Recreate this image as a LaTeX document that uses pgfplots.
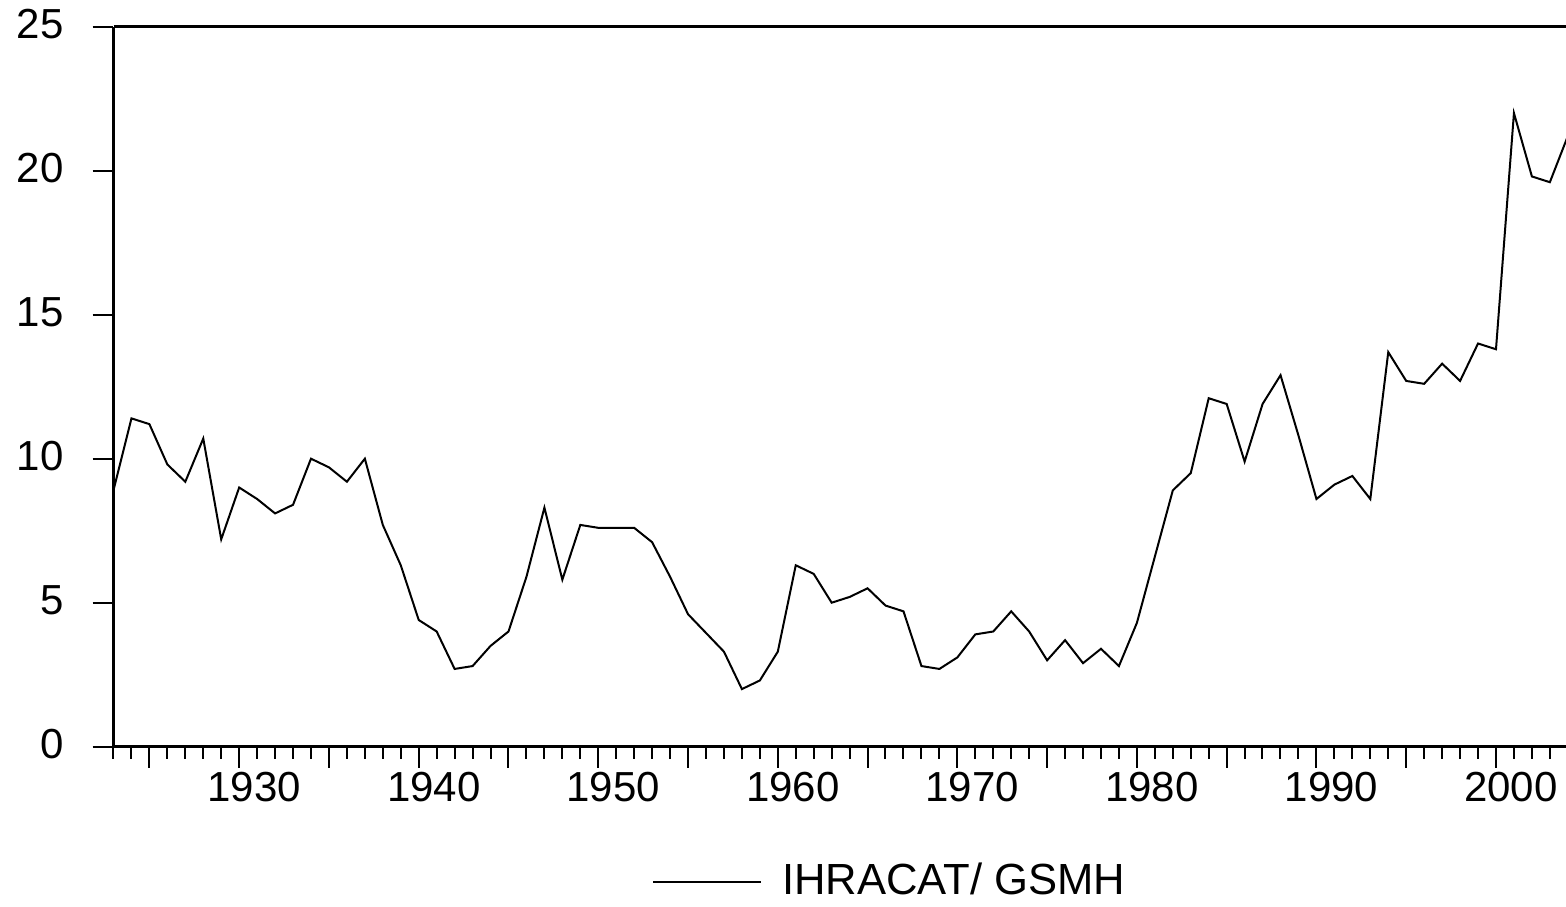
\documentclass[border=0pt]{standalone}
\usepackage{pgfplots}
\pgfplotsset{compat=1.18}
\usepackage{fontspec}
\setmainfont{Liberation Sans}
\usetikzlibrary{calc}
\pgfplotstableread{
year val
1923 8.9
1924 11.4
1925 11.2
1926 9.8
1927 9.2
1928 10.7
1929 7.2
1930 9.0
1931 8.6
1932 8.1
1933 8.4
1934 10.0
1935 9.7
1936 9.2
1937 10.0
1938 7.7
1939 6.3
1940 4.4
1941 4.0
1942 2.7
1943 2.8
1944 3.5
1945 4.0
1946 5.9
1947 8.3
1948 5.8
1949 7.7
1950 7.6
1951 7.6
1952 7.6
1953 7.1
1954 5.9
1955 4.6
1956 3.95
1957 3.3
1958 2.0
1959 2.3
1960 3.3
1961 6.3
1962 6.0
1963 5.0
1964 5.2
1965 5.5
1966 4.9
1967 4.7
1968 2.8
1969 2.7
1970 3.1
1971 3.9
1972 4.0
1973 4.7
1974 4.0
1975 3.0
1976 3.7
1977 2.9
1978 3.4
1979 2.8
1980 4.3
1981 6.6
1982 8.9
1983 9.5
1984 12.1
1985 11.9
1986 9.9
1987 11.9
1988 12.9
1989 10.8
1990 8.6
1991 9.1
1992 9.4
1993 8.6
1994 13.7
1995 12.7
1996 12.6
1997 13.3
1998 12.7
1999 14.0
2000 13.8
2001 22.0
2002 19.8
2003 19.6
2004 21.2
}\datatable
\begin{document}
\begin{tikzpicture}
\begin{axis}[
  name=ax,
  scale only axis,
  width=363.125pt, height=180pt,
  xmin=1923, xmax=2003.9,
  ymin=0, ymax=25,
  axis x line=bottom, axis y line=left,
  axis line style={-, line width=0.7pt},
  clip mode=individual,
  tick align=outside,
  ytick={0,5,10,15,20,25},
  xtick={1925,1930,...,2000},
  xticklabels={,1930,,1940,,1950,,1960,,1970,,1980,,1990,,2000},
  minor xtick={1923,1924,...,2003},
  major tick length=5.25pt,
  minor tick length=3pt,
  every tick/.style={black, line width=0.5pt},
  ticklabel style={font=\fontsize{10.5}{12}\selectfont},
  /pgf/number format/assume math mode=true,
  /pgf/number format/1000 sep={},
  xticklabel style={xshift=3.75pt, yshift=2.4pt},
  yticklabel style={xshift=-3.75pt, yshift=0.6pt},
  legend style={draw=none, fill=none, at={(0.3704,-0.1875)}, anchor=west,
    font=\fontsize{10.9}{12}\selectfont, inner sep=0pt,
    /tikz/every even column/.append style={column sep=3pt}},
  legend image code/.code={\draw[line width=0.5pt] (0pt,0pt) -- (27pt,0pt);},
]
\addplot[black, line width=0.5pt] table[x=year, y=val] {\datatable};
\addlegendentry{\hspace{3pt}IHRACAT/ GSMH}
\end{axis}
\draw[line width=0.7pt] (ax.north west) -- (ax.north east);
\pgfresetboundingbox
\path[use as bounding box] ($(ax.south west)+(-28.375pt,-39.825pt)$) rectangle ($(ax.north east)+(0pt,6.675pt)$);
\end{tikzpicture}
\end{document}
